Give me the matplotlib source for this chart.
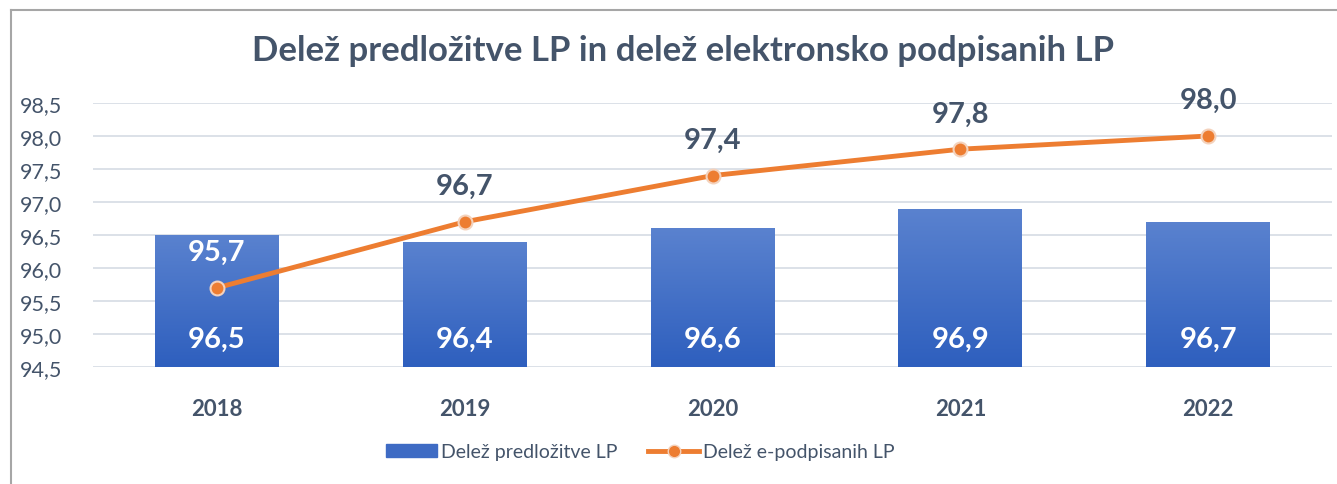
import matplotlib.pyplot as plt
import numpy as np
from matplotlib.lines import Line2D
from matplotlib.colors import LinearSegmentedColormap

# data
years = ['2018', '2019', '2020', '2021', '2022']
delez_predlozitve = [96.5, 96.4, 96.6, 96.9, 96.7]
delez_epodpisanih = [95.7, 96.7, 97.4, 97.8, 98.0]
y_ticks = [94.5, 95.0, 95.5, 96.0, 96.5, 97.0, 97.5, 98.0, 98.5]

TEXT = '#44546A'
ORANGE = '#ED7D31'

plt.rcParams['font.family'] = ['Lato', 'DejaVu Sans']


def fmt(v):
    return f'{v:.1f}'.replace('.', ',')


def main():
    fig = plt.figure(figsize=(13.37, 4.85), dpi=100)
    ax = fig.add_axes([0.0696, 0.2412, 0.9267, 0.5444])

    x = np.arange(len(years))
    base = y_ticks[0]
    heights = [v - base for v in delez_predlozitve]
    bars = ax.bar(x, heights, bottom=base, width=0.5, color='#4472C4', zorder=2)

    # vertical gradient on each bar
    grad = np.linspace(0, 1, 256).reshape(-1, 1)
    cmap = LinearSegmentedColormap.from_list('bar', ['#2E5FBE', '#5A82CF'])
    for b in bars:
        bx, by = b.get_x(), b.get_y()
        im = ax.imshow(grad, cmap=cmap, origin='lower', aspect='auto',
                       extent=[bx, bx + b.get_width(), by, by + b.get_height()],
                       zorder=2.1)
        im.set_clip_path(b)

    for xi, v in zip(x, delez_predlozitve):
        ax.text(xi, base + 0.42, fmt(v), ha='center', va='center', color='white',
                fontsize=21, fontweight='bold', zorder=5)

    ax.plot(x, delez_epodpisanih, color=ORANGE, lw=3.5, marker='o', ms=10,
            mfc=ORANGE, mec='#F4D2BC', mew=1.5, zorder=4)
    for xi, v, top in zip(x, delez_epodpisanih, delez_predlozitve):
        ly = v + 0.54
        col = 'white' if ly < top else TEXT
        ax.text(xi, ly, fmt(v), ha='center', va='center', color=col,
                fontsize=21, fontweight='bold', zorder=5)

    ax.set_xlim(-0.5, len(years) - 0.5)
    ax.set_ylim(y_ticks[0], y_ticks[-1])
    ax.set_yticks(y_ticks)
    ax.set_yticklabels([fmt(t) for t in y_ticks], color=TEXT, fontsize=15.5)
    ax.set_xticks(x)
    ax.set_xticklabels(years, color=TEXT, fontsize=16, fontweight='bold')
    ax.tick_params(axis='y', length=0, pad=22)
    ax.tick_params(axis='x', length=0, pad=22)
    ax.grid(axis='y', color='#D9DEE6', lw=1.3, zorder=0)
    ax.set_axisbelow(True)
    for s in ax.spines.values():
        s.set_visible(False)

    fig.text(0.511, 0.895, 'Delež predložitve LP in delež elektronsko podpisanih LP',
             ha='center', va='center', color=TEXT, fontsize=25, fontweight='bold')

    handles = [
        plt.Rectangle((0, 0), 1, 1, color='#3E6BC4'),
        Line2D([], [], color=ORANGE, lw=3.5, marker='o', ms=9, mfc=ORANGE, mec='#F4D2BC'),
    ]
    fig.legend(handles, ['Delež predložitve LP', 'Delež e-podpisanih LP'],
               loc='center', bbox_to_anchor=(0.479, 0.066), ncol=2, frameon=False,
               fontsize=14, labelcolor=TEXT, handlelength=2.6, columnspacing=1.6,
               handletextpad=0.2)

    # partial frame on top and left, like the cropped screenshot
    fig.add_artist(Line2D([0.008, 1.0], [0.977, 0.977], color='#A6A6A6', lw=1.5))
    fig.add_artist(Line2D([0.008, 0.008], [0.0, 0.977], color='#A6A6A6', lw=1.5))

    fig.savefig('out.png', dpi=100)


if __name__ == '__main__':
    main()
